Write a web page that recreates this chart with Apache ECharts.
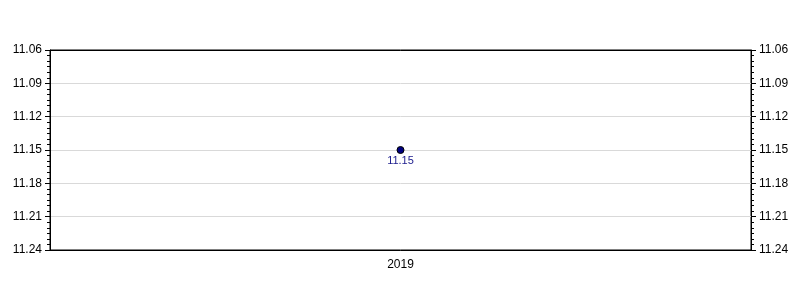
<!DOCTYPE html>
<html><head><meta charset="utf-8">
<script src="https://cdn.jsdelivr.net/npm/echarts@6/dist/echarts.min.js"></script>
<style>html,body{margin:0;padding:0;background:#fff}#c{width:800px;height:300px}</style>
</head><body><div id="c"></div>
<script>
const categories = ['2019'];
const values = [11.15];
const yMin = 11.06, yMax = 11.24, yInterval = 0.03;

const chart = echarts.init(document.getElementById('c'), null, {renderer:'canvas'});
const font = 'Liberation Sans, Arial, sans-serif';
function yAxis(pos, showSplit){
  return {
    type:'value', position:pos, inverse:true, min:yMin, max:yMax, interval:yInterval,
    axisLine:{show:true, lineStyle:{color:'#000', width:1}},
    axisTick:{show:true, length:5, lineStyle:{color:'#000'}},
    minorTick:{show:true, splitNumber:6, length:3, lineStyle:{color:'#000'}},
    splitLine:{show:showSplit, showMinLine:false, showMaxLine:false, lineStyle:{color:'#d9d9d9', width:1}},
    axisLabel:{color:'#000', fontSize:12, fontFamily:font, margin:8, padding:[4,0,0,0], formatter:v=>v.toFixed(2)}
  };
}
chart.setOption({
  animation:false,
  grid:{left:50, right:49, top:50, bottom:50, show:true, borderColor:'#000', borderWidth:1, backgroundColor:'transparent'},
  xAxis:[{type:'category', data:categories,
    axisLine:{lineStyle:{color:'#000'}},
    axisTick:{alignWithLabel:true, length:5, lineStyle:{color:'#000'}},
    axisLabel:{color:'#000', fontSize:12, fontFamily:font, margin:9}},
    {type:'category', data:categories, position:'top',
    axisLine:{show:true, lineStyle:{color:'#000'}}, axisTick:{show:false}, axisLabel:{show:false}}],
  yAxis:[yAxis('left', true), yAxis('right', false)],
  series:[{type:'line', data:values, symbol:'circle', symbolSize:7,
    itemStyle:{color:'#000080', borderColor:'#000', borderWidth:1},
    label:{show:true, position:'bottom', distance:1, color:'#1a1a8c', fontSize:11, fontFamily:font, formatter:p=>p.value.toFixed(2)}}]
});
</script></body></html>
